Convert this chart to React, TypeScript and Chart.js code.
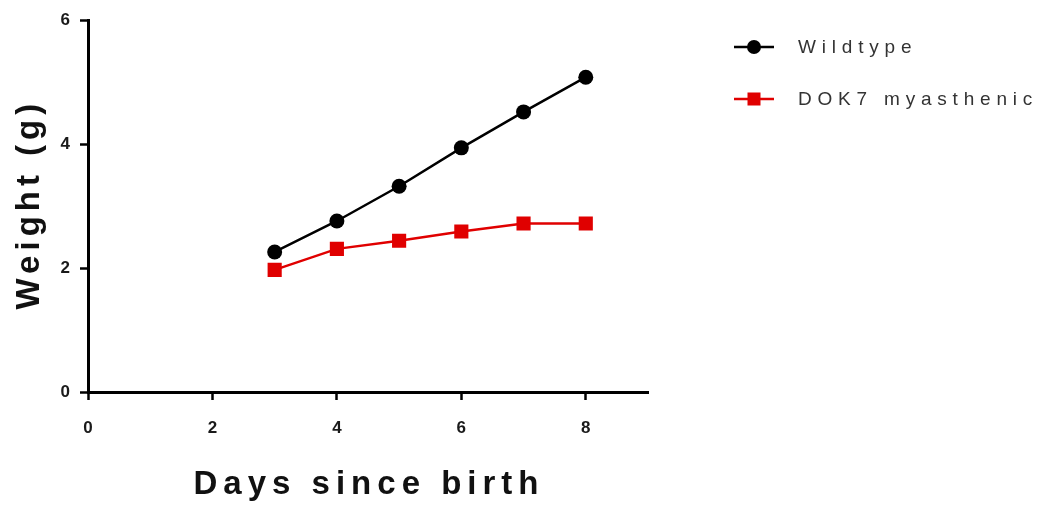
import React, { useEffect, useRef } from "react";
import { Chart, registerables } from "chart.js";

Chart.register(...registerables);

const days = [3, 4, 5, 6, 7, 8];
const wildtype = [2.26, 2.76, 3.32, 3.94, 4.52, 5.08];
const dok7 = [1.97, 2.31, 2.44, 2.59, 2.72, 2.72];
const seriesLabels = ["Wildtype", "DOK7 myasthenic"];
const xTickValues = [0, 2, 4, 6, 8];
const yTickValues = [0, 2, 4, 6];
const xTitle = "Days since birth";
const yTitle = "Weight (g)";

const FONT = "'Liberation Sans', Arial, sans-serif";

const decorPlugin = {
  id: "decor",
  afterDraw(chart: any) {
    const ctx = chart.ctx as any;
    const area = chart.chartArea;
    // axis titles
    ctx.save();
    ctx.fillStyle = "#111";
    ctx.font = `bold 33px ${FONT}`;
    ctx.letterSpacing = "6px";
    ctx.textAlign = "center";
    ctx.textBaseline = "middle";
    ctx.fillText(xTitle, (area.left + area.right) / 2 + 1, 485);
    ctx.translate(30, (area.top + area.bottom) / 2);
    ctx.rotate(-Math.PI / 2);
    ctx.letterSpacing = "5px";
    ctx.fillText(yTitle, 2, 0);
    ctx.restore();

    // legend
    const order = [0, 1];
    ctx.save();
    ctx.font = `19px ${FONT}`;
    ctx.letterSpacing = "5.8px";
    ctx.textAlign = "left";
    ctx.textBaseline = "middle";
    order.forEach((di, i) => {
      const ds = chart.data.datasets[di];
      const y = 47 + i * 52;
      ctx.strokeStyle = ds.borderColor;
      ctx.lineWidth = ds.borderWidth;
      ctx.beginPath();
      ctx.moveTo(734, y);
      ctx.lineTo(774, y);
      ctx.stroke();
      ctx.fillStyle = ds.pointBackgroundColor;
      if (ds.pointStyle === "rect") {
        ctx.fillRect(754 - 6.5, y - 6.5, 13, 13);
      } else {
        ctx.beginPath();
        ctx.arc(754, y, 7, 0, Math.PI * 2);
        ctx.fill();
      }
      ctx.fillStyle = "#333";
      ctx.fillText(ds.label, 798, y + 1);
    });
    ctx.restore();
  },
};

export default function App() {
  const ref = useRef<HTMLCanvasElement | null>(null);
  useEffect(() => {
    if (!ref.current) return;
    const chart = new Chart(ref.current, {
      type: "line",
      data: {
        datasets: [
          {
            label: seriesLabels[0],
            data: days.map((d, i) => ({ x: d, y: wildtype[i] })),
            borderColor: "#000",
            backgroundColor: "#000",
            pointBackgroundColor: "#000",
            pointBorderColor: "#000",
            pointBorderWidth: 0,
            borderWidth: 2.5,
            pointStyle: "circle",
            pointRadius: 7.5,
            order: 1,
          },
          {
            label: seriesLabels[1],
            data: days.map((d, i) => ({ x: d, y: dok7[i] })),
            borderColor: "#e00000",
            backgroundColor: "#e00000",
            pointBackgroundColor: "#e00000",
            pointBorderColor: "#e00000",
            pointBorderWidth: 0,
            borderWidth: 2.5,
            pointStyle: "rect",
            pointRadius: 10,
            order: 0,
          },
        ],
      },
      options: {
        responsive: false,
        animation: false,
        events: [],
        layout: { padding: { left: 0, top: 19, right: 400, bottom: 0 } },
        plugins: { legend: { display: false }, tooltip: { enabled: false } },
        scales: {
          x: {
            type: "linear",
            min: 0,
            max: 9,
            afterBuildTicks: (s: any) => {
              s.ticks = xTickValues.map((v) => ({ value: v }));
            },
            afterFit: (s: any) => {
              s.height = 125;
            },
            border: { display: true, color: "#000", width: 3 },
            grid: {
              drawOnChartArea: false,
              drawTicks: true,
              tickLength: 8,
              tickWidth: 2.5,
              tickColor: "#000",
            },
            ticks: {
              padding: 18,
              color: "#1a1a1a",
              font: { family: FONT, size: 17, weight: "bold" },
              maxRotation: 0,
            },
          },
          y: {
            type: "linear",
            min: 0,
            max: 6,
            afterBuildTicks: (s: any) => {
              s.ticks = yTickValues.map((v) => ({ value: v }));
            },
            afterFit: (s: any) => {
              s.width = 88;
            },
            border: { display: true, color: "#000", width: 3 },
            grid: {
              drawOnChartArea: false,
              drawTicks: true,
              tickLength: 8,
              tickWidth: 2.5,
              tickColor: "#000",
            },
            ticks: {
              padding: 10,
              color: "#1a1a1a",
              font: { family: FONT, size: 17, weight: "bold" },
            },
          },
        },
      },
      plugins: [decorPlugin],
    });
    return () => chart.destroy();
  }, []);
  return (
    <div style={{ position: "absolute", left: 0, top: 0, width: 1048, height: 517, background: "#fff" }}>
      <canvas ref={ref} width={1048} height={517} style={{ display: "block" }} />
    </div>
  );
}
